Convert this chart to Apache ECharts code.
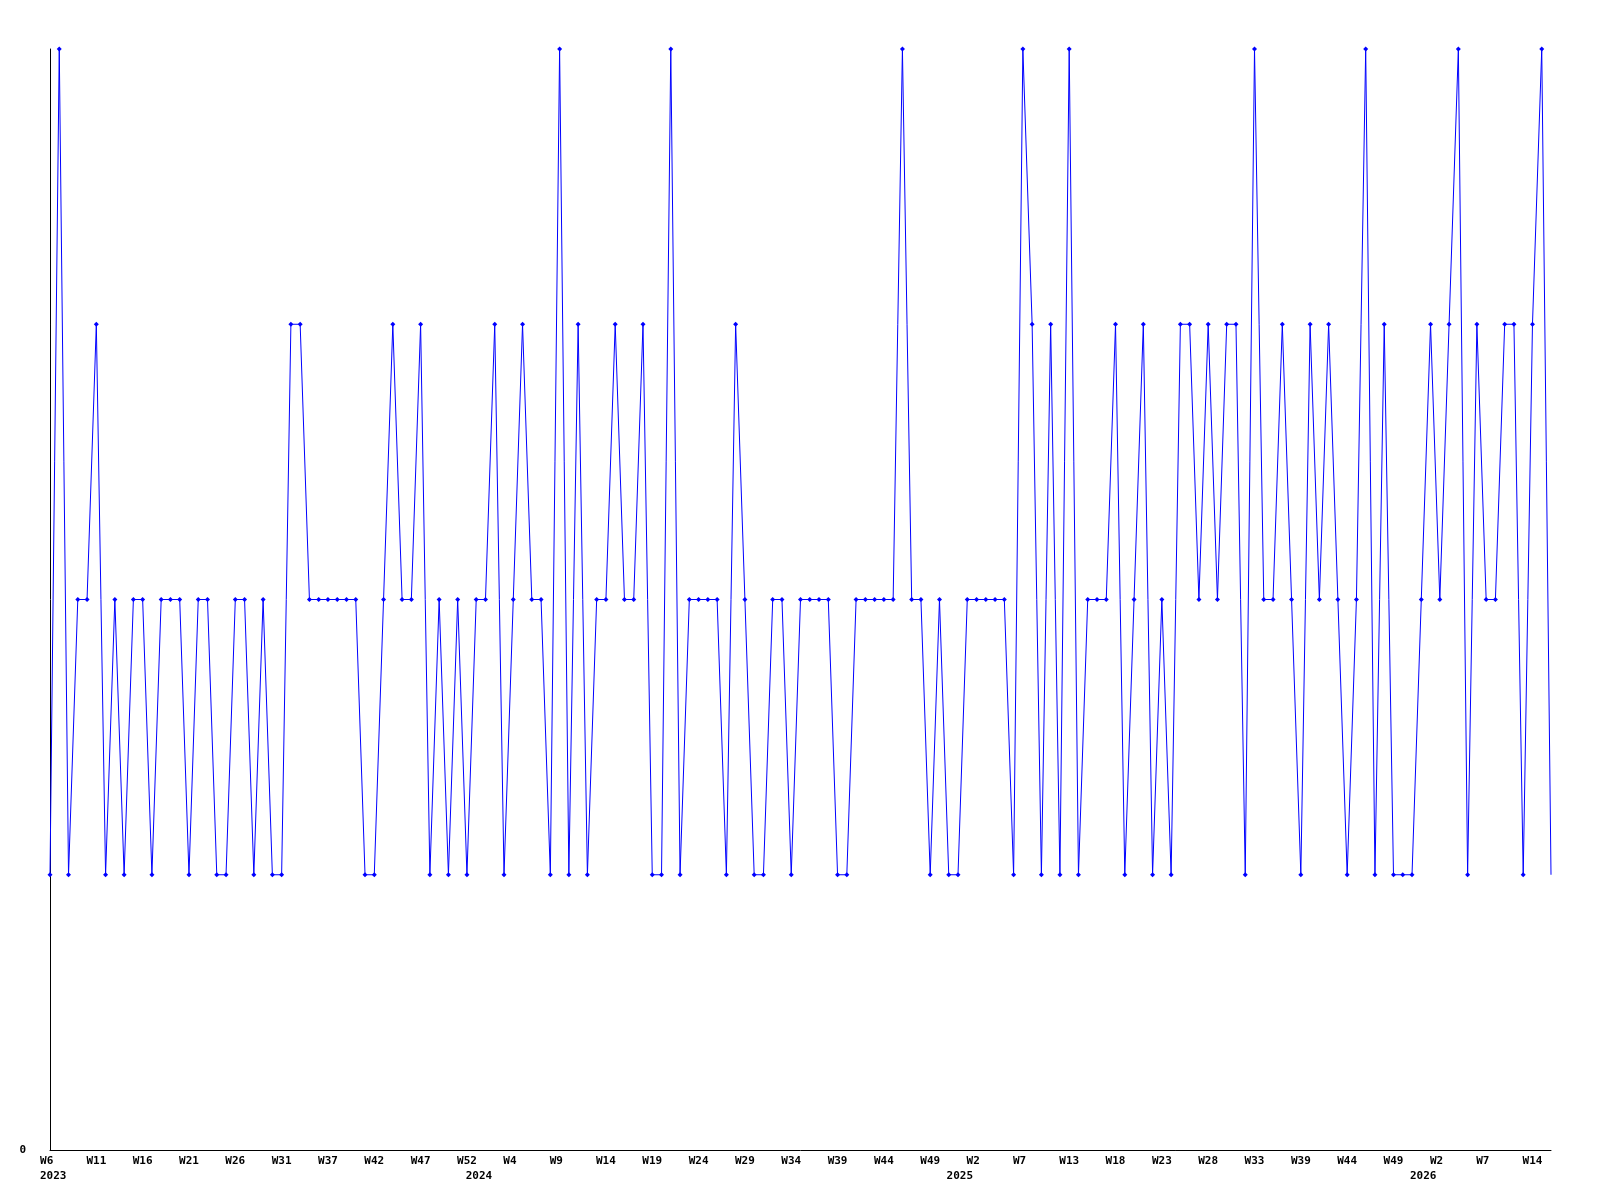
<!DOCTYPE html>
<html>
<head>
<meta charset="utf-8">
<style>
  html, body { margin: 0; padding: 0; background: #fff; }
  #chart { width: 1600px; height: 1200px; }
</style>
<script src="https://cdn.jsdelivr.net/npm/echarts@6/dist/echarts.min.js"></script>
</head>
<body>
<div id="chart"></div>
<script>
// weekly values, one per point (W6 2023 ... 2026)
const values = [
  1, 4, 1, 2, 2, 3, 1, 2, 1, 2, 2, 1, 2, 2, 2, 1, 2, 2, 1, 1, 2, 2, 1, 2, 1, 1, 3, 3,
  2, 2, 2, 2, 2, 2, 1, 1, 2, 3, 2, 2, 3, 1, 2, 1, 2, 1, 2, 2, 3, 1, 2, 3, 2, 2, 1,
  4, 1, 3, 1, 2, 2, 3, 2, 2, 3, 1, 1, 4, 1, 2, 2, 2, 2, 1, 3, 2, 1, 1, 2, 2, 1, 2,
  2, 2, 2, 1, 1, 2, 2, 2, 2, 2, 4, 2, 2, 1, 2, 1, 1, 2, 2, 2, 2, 2, 1, 4, 3, 1, 3,
  1, 4, 1, 2, 2, 2, 3, 1, 2, 3, 1, 2, 1, 3, 3, 2, 3, 2, 3, 3, 1, 4, 2, 2, 3, 2, 1, 3,
  2, 3, 2, 1, 2, 4, 1, 3, 1, 1, 1, 2, 3, 2, 3, 4, 1, 3, 2, 2, 3, 3, 1, 3, 4, 1
]

// week tick labels and the point index they sit on
const weekTickPos = [0, 5, 10, 15, 20, 25, 30, 35, 40, 45, 50, 55, 60, 65, 70, 75, 80,
  85, 90, 95, 100, 105, 110, 115, 120, 125, 130, 135, 140, 145, 150, 155, 160]
const weekTickLabels = ['W6', 'W11', 'W16', 'W21', 'W26', 'W31', 'W37', 'W42', 'W47', 'W52',
  'W4', 'W9', 'W14', 'W19', 'W24', 'W29', 'W34', 'W39', 'W44', 'W49',
  'W2', 'W7', 'W13', 'W18', 'W23', 'W28', 'W33', 'W39', 'W44', 'W49',
  'W2', 'W7', 'W14']

// year labels (second row)
const yearTickPos = [0.35, 46.3, 98.2, 148.2]
const yearTickLabels = ['2023', '2024', '2025', '2026']

const labelFont = {
  fontFamily: 'DejaVu Sans Mono',
  fontWeight: 'bold',
  fontSize: 11,
  lineHeight: 11,
  color: '#000'
}

function nearestLabel(pos, labels, v) {
  let best = 0
  for (let i = 1; i < pos.length; i++) {
    if (Math.abs(pos[i] - v) < Math.abs(pos[best] - v)) best = i
  }
  return labels[best]
}

const lastIdx = values.length - 1
const seriesData = values.map((v, i) => {
  if (i === lastIdx) return { value: [i, v], symbol: 'none' }
  return [i, v]
})

const chart = echarts.init(document.getElementById('chart'))

chart.setOption({
  animation: false,
  backgroundColor: '#fff',
  grid: { left: 50, right: 49, top: 49, bottom: 50 },
  xAxis: [{
    type: 'value',
    min: 0,
    max: lastIdx,
    position: 'bottom',
    axisLine: { show: true, lineStyle: { color: '#000', width: 1 } },
    axisTick: { show: false },
    splitLine: { show: false },
    axisLabel: Object.assign({
      margin: 6,
      customValues: weekTickPos,
      // pad 2-char labels so they line up like the 3-char ones
      formatter: (v) => {
        const s = nearestLabel(weekTickPos, weekTickLabels, v)
        return s.length < 3 ? s + ' ' : s
      }
    }, labelFont)
  }, {
    type: 'value',
    min: 0,
    max: lastIdx,
    position: 'bottom',
    offset: 15,
    axisLine: { show: false },
    axisTick: { show: false },
    splitLine: { show: false },
    axisLabel: Object.assign({
      margin: 6,
      customValues: yearTickPos,
      formatter: (v) => nearestLabel(yearTickPos, yearTickLabels, v)
    }, labelFont)
  }],
  yAxis: {
    type: 'value',
    min: 0,
    max: 4,
    axisLine: { show: true, lineStyle: { color: '#000', width: 1 } },
    axisTick: { show: false },
    splitLine: { show: false },
    axisLabel: Object.assign({
      margin: 24,
      customValues: [0]
    }, labelFont)
  },
  series: [{
    type: 'line',
    xAxisIndex: 0,
    data: seriesData,
    showSymbol: true,
    symbol: 'diamond',
    symbolSize: 5,
    lineStyle: { color: '#0000ff', width: 1 },
    itemStyle: { color: '#0000ff' },
    emphasis: { disabled: true }
  }]
})
</script>
</body>
</html>
